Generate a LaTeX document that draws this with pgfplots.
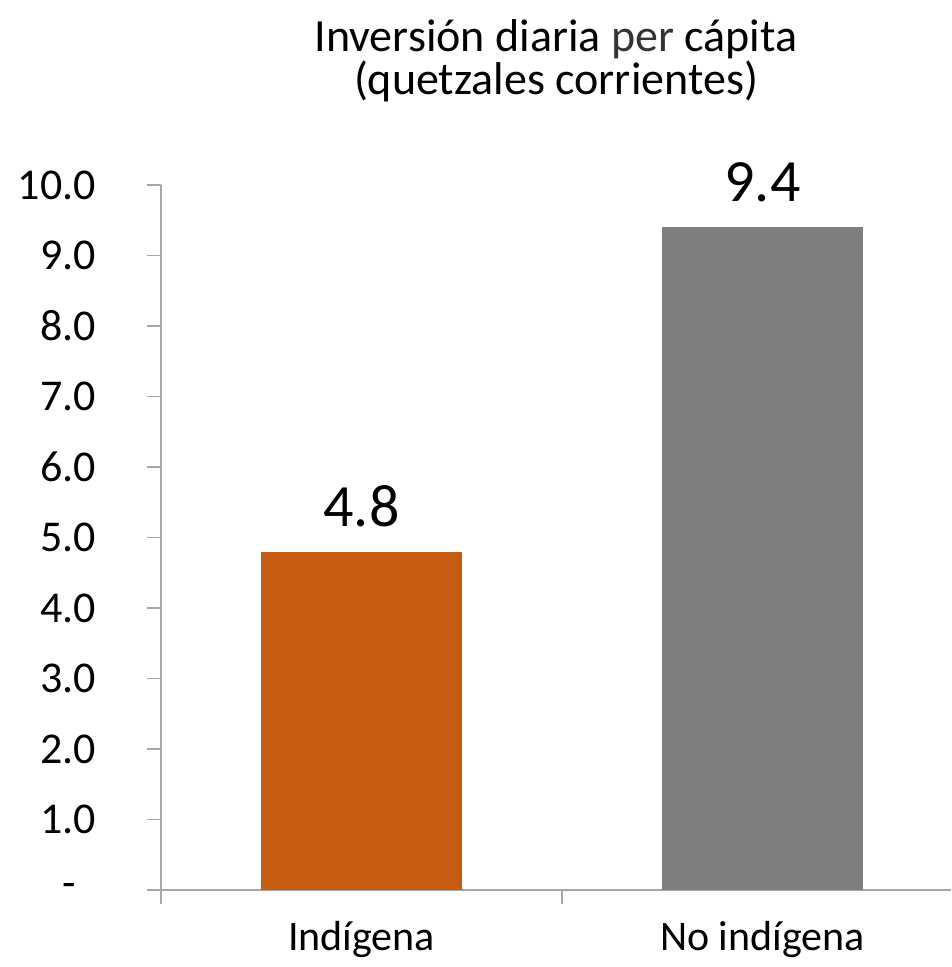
\documentclass[border=0pt]{standalone}
\usepackage{fontspec}
\setmainfont{Carlito}
\usepackage{pgfplots}
\pgfplotsset{compat=1.18}
\definecolor{barorange}{HTML}{C55A11}
\definecolor{bargray}{HTML}{7F7F7F}
\definecolor{axisgray}{HTML}{A6A6A6}
\begin{document}
\begin{tikzpicture}
\useasboundingbox (-80.5pt,-38.5pt) rectangle (395pt,445pt);
\begin{axis}[
  at={(0,0)}, anchor=south west,
  scale only axis,
  width=395pt, height=352.5pt,
  xmin=-0.5, xmax=1.47,
  ymin=0, ymax=10,
  axis x line*=bottom, axis y line*=left,
  axis line style={draw=axisgray, line width=0.8pt},
  ybar, bar width=0.5,
  ytick={0,1,...,10},
  yticklabels={{-\hspace*{10pt}},1.0,2.0,3.0,4.0,5.0,6.0,7.0,8.0,9.0,10.0},
  xtick={-0.5,0.5},
  xticklabels={},
  extra x ticks={0,1},
  extra x tick labels={Indígena,No indígena},
  extra x tick style={major tick length=0pt, xticklabel style={yshift=-12pt, font=\fontsize{21}{25}\selectfont}},
  tick align=outside,
  major tick length=7pt,
  tick style={draw=axisgray, line width=0.8pt},
  tick label style={font=\fontsize{22}{27}\selectfont, text=black},
  yticklabel style={xshift=-22pt},
  /pgf/number format/assume math mode=true,
  title={Inversión diaria {\color{black!80}per} cápita\\(quetzales corrientes)},
  title style={align=center, font=\fontsize{23}{20}\selectfont, at={(axis description cs:0.5,1)}, anchor=south, yshift=32pt},
  nodes near coords,
  every node near coord/.append style={font=\fontsize{30}{36}\selectfont, text=black, yshift=9pt},
  nodes near coords={\pgfmathprintnumber[fixed, fixed zerofill, precision=1, assume math mode=true]{\pgfplotspointmeta}},
  clip=false,
]
\addplot[fill=barorange, draw=none, bar shift=0pt] coordinates {(0,4.8)};
\addplot[fill=bargray, draw=none, bar shift=0pt] coordinates {(1,9.4)};
\end{axis}
\end{tikzpicture}
\end{document}
